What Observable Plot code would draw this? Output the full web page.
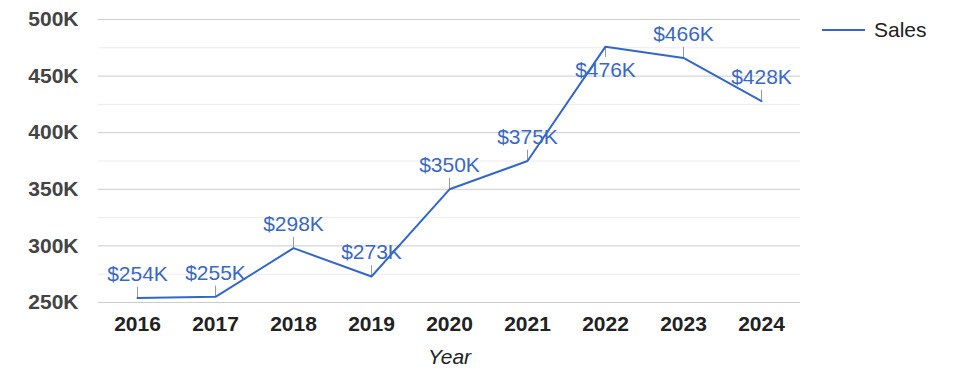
<!DOCTYPE html>
<html>
<head>
<meta charset="utf-8">
<script src="https://cdn.jsdelivr.net/npm/d3@7"></script>
<script src="https://cdn.jsdelivr.net/npm/@observablehq/plot@0.6"></script>
<style>
  html, body { margin: 0; padding: 0; background: #fff; }
  #wrap { position: relative; width: 975px; height: 378px; font-family: "Liberation Sans", Arial, sans-serif; }
  #legend { position: absolute; left: 822px; top: 18px; display: flex; align-items: center; font-size: 21px; color: #222; }
  #legend .sw { width: 43px; height: 2px; background: #3366cc; margin-right: 9px; }
</style>
</head>
<body>
<div id="wrap">
  <div id="chart"></div>
  <div id="legend"><div class="sw"></div><span>Sales</span></div>
</div>
<script>
const years = ["2016","2017","2018","2019","2020","2021","2022","2023","2024"];
const sales = [254000, 255000, 298000, 273000, 350000, 375000, 476000, 466000, 428000];
const yMajorTicks = [250000, 300000, 350000, 400000, 450000, 500000];
const yMinorTicks = [275000, 325000, 375000, 425000, 475000];
const seriesName = "Sales";
const xLabel = "Year";

const data = years.map((y, i) => ({year: y, value: sales[i]}));
const yMax = 500000;
const below = d => d.value > 470000;
const fmt = v => "$" + Math.round(v / 1000) + "K";

const chart = Plot.plot({
  width: 975,
  height: 378,
  marginLeft: 98,
  marginRight: 175,
  marginTop: 19,
  marginBottom: 76,
  style: {fontFamily: '"Liberation Sans", Arial, sans-serif', fontSize: "21px", background: "#fff"},
  x: {type: "point", domain: years, padding: 0.5},
  y: {domain: [250000, yMax]},
  marks: [
    Plot.ruleY(yMinorTicks, {stroke: "#ebebeb", strokeWidth: 1}),
    Plot.ruleY(yMajorTicks, {stroke: "#cccccc", strokeWidth: 1}),
    Plot.axisY({ticks: yMajorTicks, tickFormat: d => d / 1000 + "K", tickSize: 0, tickPadding: 20, fontWeight: "bold", fill: "#444", label: null}),
    Plot.axisX({tickSize: 0, tickPadding: 14, fontWeight: "bold", fill: "#222", label: null}),
    Plot.text([xLabel], {frameAnchor: "bottom", dy: 61, lineAnchor: "bottom", fontStyle: "italic", fill: "#222"}),
    Plot.ruleX(data, {x: "year", y1: "value", y2: d => d.value + (below(d) ? -9500 : 9500), stroke: "#999", strokeWidth: 1}),
    Plot.line(data, {x: "year", y: "value", stroke: "#3366cc", strokeWidth: 2}),
    Plot.text(data.filter(d => !below(d)), {x: "year", y: "value", text: d => fmt(d.value), lineAnchor: "bottom", dy: -17, fill: "#3a68c6"}),
    Plot.text(data.filter(below), {x: "year", y: "value", text: d => fmt(d.value), lineAnchor: "top", dy: 15, fill: "#3a68c6"})
  ]
});
document.getElementById("chart").appendChild(chart);
</script>
</body>
</html>
